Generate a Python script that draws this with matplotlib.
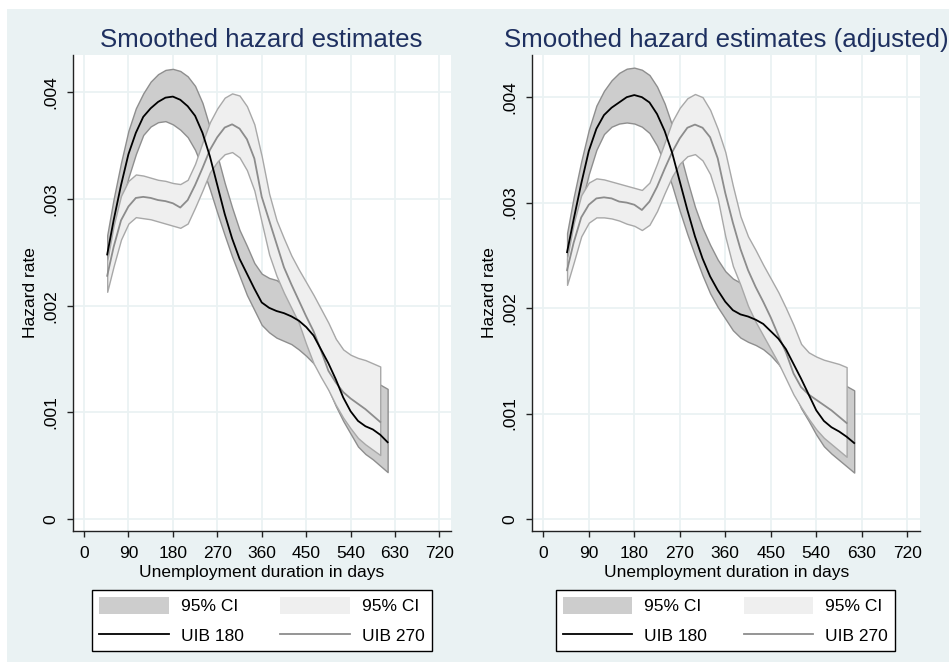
import numpy as np
import matplotlib
matplotlib.use('Agg')
import matplotlib.pyplot as plt
from matplotlib.patches import Rectangle, Patch
from matplotlib.lines import Line2D

plt.rcParams['font.family'] = ['Liberation Sans', 'DejaVu Sans']

# days on the x axis (UIB 180 runs a bit longer than UIB 270)
days_180 = [47, 60, 75, 90, 105, 120, 135, 150, 165, 180, 195, 210, 225, 240, 255,
            270, 285, 300, 315, 330, 345, 360, 375, 390, 405, 420, 435, 450, 465,
            480, 495, 510, 525, 540, 555, 570, 585, 600, 615]
days_270 = days_180[:-1]

# hazard rates, in units of 1/1000
# --- left panel: unadjusted
uib180 = [2.48, 2.80, 3.13, 3.42, 3.62, 3.77, 3.85, 3.91, 3.95, 3.96, 3.93, 3.87, 3.78,
          3.62, 3.40, 3.13, 2.86, 2.63, 2.44, 2.30, 2.16, 2.03, 1.98, 1.95, 1.93, 1.90,
          1.86, 1.80, 1.72, 1.59, 1.46, 1.31, 1.14, 1.01, 0.92, 0.87, 0.84, 0.79, 0.72]
uib180_hi = [2.66, 3.00, 3.34, 3.64, 3.85, 3.99, 4.10, 4.17, 4.21, 4.22, 4.20, 4.15, 4.06,
             3.90, 3.67, 3.41, 3.15, 2.92, 2.71, 2.56, 2.40, 2.30, 2.26, 2.24, 2.19, 2.13,
             2.07, 2.02, 1.98, 1.93, 1.82, 1.68, 1.58, 1.50, 1.43, 1.37, 1.31, 1.26, 1.22]
uib180_lo = [2.31, 2.62, 2.93, 3.20, 3.42, 3.60, 3.68, 3.72, 3.73, 3.70, 3.65, 3.58, 3.46,
             3.29, 3.09, 2.87, 2.66, 2.46, 2.28, 2.10, 1.96, 1.82, 1.75, 1.70, 1.67, 1.64,
             1.59, 1.53, 1.46, 1.37, 1.22, 1.06, 0.92, 0.80, 0.68, 0.61, 0.56, 0.50, 0.44]
uib270 = [2.28, 2.55, 2.80, 2.93, 3.01, 3.02, 3.01, 2.99, 2.98, 2.96, 2.92, 2.99, 3.13,
          3.29, 3.46, 3.58, 3.67, 3.70, 3.66, 3.56, 3.38, 3.02, 2.80, 2.58, 2.36, 2.20,
          2.05, 1.90, 1.76, 1.58, 1.39, 1.28, 1.19, 1.13, 1.08, 1.03, 0.97, 0.91]
uib270_hi = [2.42, 2.75, 3.03, 3.17, 3.23, 3.22, 3.20, 3.18, 3.17, 3.15, 3.14, 3.18, 3.33,
             3.53, 3.72, 3.85, 3.95, 3.99, 3.97, 3.87, 3.70, 3.40, 3.05, 2.80, 2.63, 2.47,
             2.34, 2.22, 2.10, 1.97, 1.84, 1.69, 1.59, 1.54, 1.51, 1.49, 1.46, 1.43]
uib270_lo = [2.13, 2.37, 2.62, 2.77, 2.83, 2.82, 2.81, 2.79, 2.77, 2.75, 2.73, 2.77, 2.92,
             3.08, 3.25, 3.35, 3.42, 3.44, 3.39, 3.27, 3.08, 2.78, 2.48, 2.28, 2.12, 1.98,
             1.84, 1.64, 1.46, 1.33, 1.21, 1.07, 0.95, 0.85, 0.76, 0.70, 0.65, 0.60]

# --- right panel: adjusted
adj180 = [2.53, 2.84, 3.18, 3.49, 3.70, 3.83, 3.90, 3.95, 4.00, 4.02, 4.00, 3.95, 3.84,
          3.68, 3.47, 3.20, 2.93, 2.68, 2.47, 2.30, 2.17, 2.06, 1.98, 1.94, 1.92, 1.89,
          1.85, 1.78, 1.71, 1.61, 1.47, 1.33, 1.18, 1.03, 0.93, 0.87, 0.83, 0.78, 0.72]
adj180_hi = [2.71, 3.05, 3.39, 3.69, 3.92, 4.06, 4.16, 4.23, 4.27, 4.28, 4.26, 4.21, 4.10,
             3.94, 3.73, 3.48, 3.21, 2.96, 2.76, 2.60, 2.46, 2.35, 2.28, 2.24, 2.20, 2.14,
             2.08, 2.03, 1.98, 1.90, 1.78, 1.65, 1.57, 1.50, 1.43, 1.37, 1.31, 1.26, 1.22]
adj180_lo = [2.35, 2.66, 2.98, 3.27, 3.50, 3.65, 3.72, 3.75, 3.76, 3.75, 3.72, 3.66, 3.54,
             3.37, 3.16, 2.92, 2.70, 2.50, 2.31, 2.14, 2.01, 1.90, 1.79, 1.72, 1.68, 1.65,
             1.61, 1.55, 1.47, 1.37, 1.22, 1.05, 0.93, 0.80, 0.69, 0.62, 0.56, 0.50, 0.44]
adj270 = [2.36, 2.62, 2.86, 2.98, 3.04, 3.05, 3.04, 3.01, 3.00, 2.98, 2.93, 3.01, 3.15,
          3.32, 3.48, 3.61, 3.71, 3.74, 3.71, 3.62, 3.42, 3.09, 2.81, 2.56, 2.36, 2.20,
          2.06, 1.91, 1.74, 1.58, 1.38, 1.25, 1.18, 1.13, 1.08, 1.03, 0.97, 0.91]
adj270_hi = [2.47, 2.80, 3.07, 3.19, 3.23, 3.22, 3.20, 3.18, 3.16, 3.14, 3.12, 3.19, 3.37,
             3.57, 3.77, 3.90, 3.99, 4.03, 4.00, 3.88, 3.70, 3.48, 3.16, 2.87, 2.68, 2.55,
             2.41, 2.28, 2.15, 2.00, 1.84, 1.66, 1.58, 1.54, 1.51, 1.49, 1.47, 1.44]
adj270_lo = [2.22, 2.43, 2.68, 2.81, 2.86, 2.86, 2.85, 2.83, 2.80, 2.78, 2.74, 2.79, 2.92,
             3.09, 3.25, 3.37, 3.44, 3.46, 3.40, 3.27, 3.04, 2.68, 2.40, 2.22, 2.02, 1.87,
             1.74, 1.61, 1.48, 1.33, 1.18, 1.06, 0.95, 0.85, 0.77, 0.71, 0.65, 0.59]

titles = ['Smoothed hazard estimates', 'Smoothed hazard estimates (adjusted)']
x_ticks = [0, 90, 180, 270, 360, 450, 540, 630, 720]
y_ticks = [0, 0.001, 0.002, 0.003, 0.004]
y_labels = ['0', '.001', '.002', '.003', '.004']
legend_labels = ['95% CI', 'UIB 180', '95% CI', 'UIB 270']

bg = '#EAF2F3'
dark_fill, dark_edge = '#CDCDCD', '#8E8E8E'
light_fill, light_edge = '#EFEFEF', '#A8A8A8'
title_col = '#1E3060'

fig = plt.figure(figsize=(9.49, 6.64), dpi=100)
fig.patch.set_facecolor('white')
# light outer frame as in the Stata graph region
fig.patches.append(Rectangle((7 / 949, 2 / 664), 1, 653 / 664, transform=fig.transFigure,
                             facecolor=bg, edgecolor='none', zorder=-5))

panels = [
    dict(rect=[0.0766, 0.2003, 0.3983, 0.7169], xlim=(-22.9, 742.7), ylim=(-0.000112, 0.00435),
         data=(uib180, uib180_lo, uib180_hi, uib270, uib270_lo, uib270_hi), legx=0.276),
    dict(rect=[0.5609, 0.2003, 0.4085, 0.7169], xlim=(-21.8, 745.1), ylim=(-0.000114, 0.0044),
         data=(adj180, adj180_lo, adj180_hi, adj270, adj270_lo, adj270_hi), legx=0.7643),
]

for title, p in zip(titles, panels):
    ax = fig.add_axes(p['rect'])
    ax.set_zorder(1)
    h180, lo180, hi180, h270, lo270, hi270 = [np.array(v) / 1000 for v in p['data']]

    ax.fill_between(days_180, lo180, hi180, facecolor=dark_fill, edgecolor=dark_edge,
                    linewidth=1.0, zorder=2)
    ax.fill_between(days_270, lo270, hi270, facecolor=light_fill, edgecolor=light_edge,
                    linewidth=1.0, zorder=3)
    ax.plot(days_270, h270, color='#8C8C8C', lw=1.3, zorder=4)
    ax.plot(days_180, h180, color='black', lw=1.3, zorder=5)

    ax.set_xlim(*p['xlim'])
    ax.set_ylim(*p['ylim'])
    ax.set_xticks(x_ticks)
    ax.set_yticks(y_ticks)
    ax.set_yticklabels(y_labels, rotation=90, va='center')
    ax.grid(True, color=bg, lw=1.3, zorder=0)
    ax.set_axisbelow(True)
    for s in ['top', 'right']:
        ax.spines[s].set_visible(False)
    for s in ['left', 'bottom']:
        ax.spines[s].set_color('#222222')
        ax.spines[s].set_linewidth(1.0)
    ax.tick_params(direction='out', length=4, width=1, color='#222222',
                   labelsize=12.5, pad=6.5)
    ax.set_xlabel('Unemployment duration in days', fontsize=12.5, labelpad=3)
    ax.set_ylabel('Hazard rate', fontsize=12.5, labelpad=4)
    ax.set_title(title, fontsize=18.6, color=title_col, pad=6)

    handles = [Patch(facecolor=dark_fill, edgecolor='none'),
               Line2D([], [], color='black', lw=1.3),
               Patch(facecolor=light_fill, edgecolor='none'),
               Line2D([], [], color='#8C8C8C', lw=1.3)]
    leg = fig.legend(handles, legend_labels, ncol=2, loc='upper center',
                     bbox_to_anchor=(p['legx'], 0.1114), borderaxespad=0, fontsize=12.5,
                     handlelength=4.0, handleheight=1.15, handletextpad=0.7,
                     columnspacing=2.1, labelspacing=0.7, borderpad=0.4,
                     fancybox=False, framealpha=1)
    leg.get_frame().set_edgecolor('black')
    leg.get_frame().set_linewidth(1.0)

fig.savefig('out.png', dpi=100, facecolor=fig.get_facecolor())
